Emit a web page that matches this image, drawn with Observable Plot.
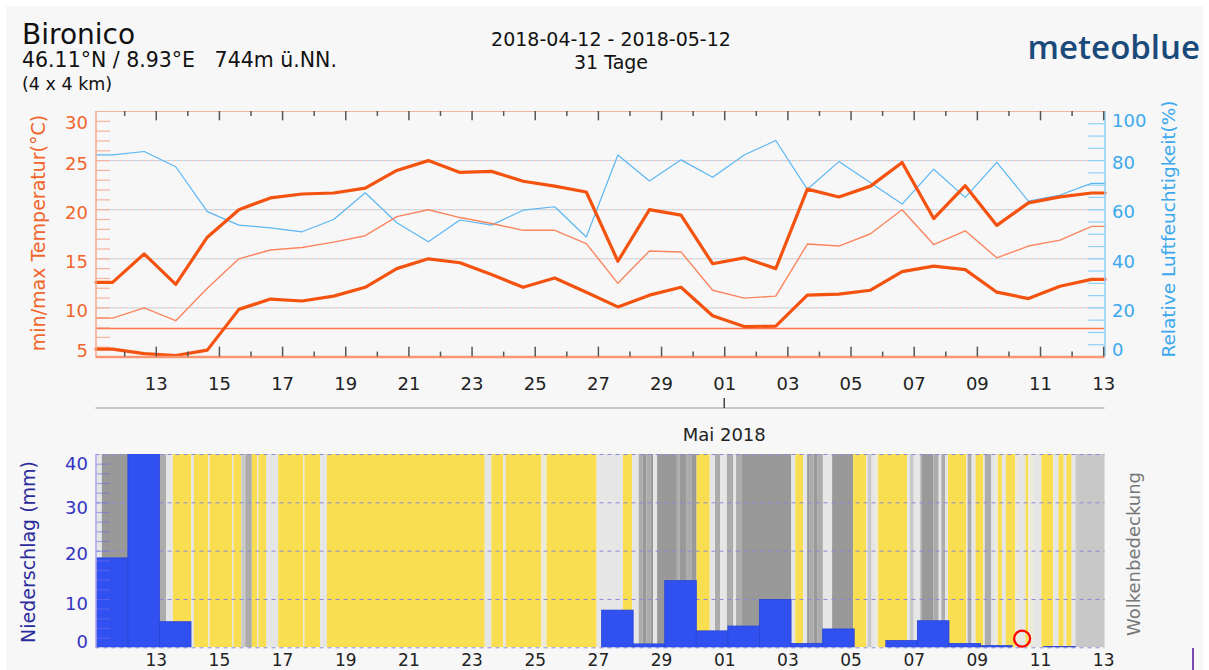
<!DOCTYPE html>
<html>
<head>
<meta charset="utf-8">
<script src="https://cdn.jsdelivr.net/npm/d3@7"></script>
<script src="https://cdn.jsdelivr.net/npm/@observablehq/plot@0.6"></script>
<style>
  body { margin: 0; background: #ffffff; }
  #wrap { position: relative; width: 1209px; height: 670px; overflow: hidden; background: #ffffff; font-family: "DejaVu Sans", sans-serif; }
  #panel { position: absolute; left: 6px; top: 6px; width: 1197px; height: 700px; background: #f7f7f7; }
  #wrap svg { position: absolute; left: 0; }
</style>
</head>
<body>
<div id="wrap"><div id="panel"></div></div>
<script>
// ---------------- DATA ----------------
const dates = [
  "2018-04-11","2018-04-12","2018-04-13","2018-04-14","2018-04-15","2018-04-16","2018-04-17","2018-04-18",
  "2018-04-19","2018-04-20","2018-04-21","2018-04-22","2018-04-23","2018-04-24","2018-04-25","2018-04-26",
  "2018-04-27","2018-04-28","2018-04-29","2018-04-30","2018-05-01","2018-05-02","2018-05-03","2018-05-04",
  "2018-05-05","2018-05-06","2018-05-07","2018-05-08","2018-05-09","2018-05-10","2018-05-11","2018-05-12"
];
const tempMax = [12.6, 15.5, 12.4, 17.2, 20.0, 21.2, 21.6, 21.7, 22.2, 24.0, 25.0, 23.8, 23.9, 22.9, 22.4, 21.8,
                 14.75, 20.0, 19.45, 14.5, 15.1, 14.0, 22.1, 21.3, 22.4, 24.8, 19.1, 22.45, 18.4, 20.7, 21.3, 21.7];
const tempMin = [5.8, 5.35, 5.15, 5.7, 9.85, 10.9, 10.7, 11.2, 12.1, 14.0, 15.0, 14.6, 13.4, 12.1, 13.05, 11.6,
                 10.1, 11.3, 12.1, 9.2, 8.1, 8.15, 11.3, 11.4, 11.8, 13.7, 14.25, 13.9, 11.6, 10.95, 12.2, 12.9];
const tempMean = [8.96, 10.0, 8.7, 12.0, 15.0, 15.9, 16.15, 16.7, 17.35, 19.3, 20.0, 19.2, 18.6, 17.9, 17.9, 16.55,
                  12.5, 15.8, 15.7, 11.8, 11.0, 11.2, 16.5, 16.3, 17.55, 20.0, 16.45, 17.85, 15.1, 16.3, 16.9, 18.3];
const humidity = [82.3, 83.7, 77.5, 59.2, 53.7, 52.6, 51.0, 56.0, 66.9, 54.7, 46.9, 55.8, 53.7, 59.8, 61.2, 48.9,
                  82.3, 71.7, 80.3, 73.2, 82.3, 88.2, 68.3, 79.6, 71.0, 62.3, 76.5, 65.0, 79.3, 63.5, 66.0, 70.7];
const precipitation = [18.5, 42, 5.3, 0, 0, 0, 0, 0, 0, 0, 0, 0, 0, 0, 0, 0,
                       7.7, 0.7, 13.8, 3.4, 4.4, 9.9, 0.8, 3.8, 0, 1.4, 5.5, 0.8, 0.35, 0, 0.15, 0];
// cloud cover runs: start hour (since 2018-04-11 00:00) and cover class (0 clear .. 5 overcast)
const cloudStartHour = [0, 7, 51, 56, 61, 75, 77, 88, 89, 106, 107, 113, 116, 121, 125, 126, 132, 141, 160, 161,
  173, 178, 298, 303, 312, 314, 341, 345, 383, 403, 410, 415, 418, 421, 424, 426, 429, 444, 446, 451,
  455, 459, 469, 473, 477, 482, 487, 489, 493, 531, 534, 540, 543, 545, 548, 551, 555, 562, 578, 588,
  589, 592, 595, 597, 619, 621, 624, 629, 630, 639, 643, 645, 648, 650, 664, 665, 668, 671, 677, 678,
  683, 686, 688, 691, 694, 701, 704, 709, 711, 715, 721, 730, 734, 738, 740, 744, 747];
const cloudLevel = [2, 5, 4, 2, 0, 2, 0, 2, 0, 2, 0, 3, 4, 0, 2, 0, 2, 0, 2, 0,
  2, 0, 2, 0, 2, 0, 1, 0, 2, 0, 2, 4, 5, 4, 5, 2, 5, 4, 5, 4,
  5, 0, 2, 4, 2, 4, 2, 4, 5, 2, 0, 2, 5, 4, 5, 4, 2, 5, 0, 2,
  3, 2, 1, 0, 2, 3, 2, 4, 5, 4, 2, 4, 2, 0, 2, 4, 2, 0, 2, 4,
  2, 1, 0, 2, 0, 1, 2, 0, 1, 2, 0, 2, 0, 2, 0, 2, 3];
const cloudEndHour = 770;
const tempGrid = [10, 15, 20, 25];
const refLine = [7.9];
const precipGrid = [0, 10, 20, 30, 40];
const marker = [{date: "2018-05-10T10:00:00Z", value: 1.9}];

// ---------------- SETUP ----------------
const cloudColors = ["#f8de50", "#eeead8", "#e6e6e6", "#c8c8c8", "#acacac", "#999999"];
const H = 3600 * 1000;
const base = Date.parse("2018-04-11T00:00:00Z");
const CENTER_H = 14.8;
const xDomain = [new Date(base + 2.2 * H), new Date(base + 769 * H)];
const centers = dates.map(d => new Date(Date.parse(d + "T00:00:00Z") + CENTER_H * H));
const series = vals => [
  {x: xDomain[0], y: vals[0]},
  ...vals.map((v, i) => ({x: centers[i], y: v})),
  {x: xDomain[1], y: vals[vals.length - 1]}
];
const humToT = h => 5 + h / 4;

const tickDays = d3.utcDay.range(new Date("2018-04-12T00:00:00Z"), new Date("2018-05-14T00:00:00Z"));
const majors = tickDays.filter(d => d.getUTCDate() % 2 === 1);
const minors = tickDays.filter(d => d.getUTCDate() % 2 === 0);
const fmtDay = d3.utcFormat("%d");
const left0 = () => xDomain[0];
const right0 = () => xDomain[1];

const W = 1209, ML = 95.5, MR = 104.5;
const font = "'DejaVu Sans', sans-serif";
const orange = "#f0662c", blueLab = "#3ca8ee";

// ---------------- TOP PANEL ----------------
const topPlot = Plot.plot({
  width: W, height: 320,
  marginLeft: ML, marginRight: MR, marginTop: 11, marginBottom: 63.5,
  style: {background: "transparent", fontFamily: font, fontSize: "18px", overflow: "visible"},
  x: {type: "utc", domain: xDomain, label: null},
  y: {domain: [5, 30], label: null},
  marks: [
    Plot.ruleY(tempGrid, {stroke: "#f5b9a6", strokeDasharray: "3,3"}),
    Plot.ruleY(tempGrid, {stroke: "#a6d6f6", strokeDasharray: "3,3", strokeDashoffset: 3}),
    Plot.ruleY(refLine, {stroke: "#ff7548", strokeWidth: 1.6}),
    Plot.ruleY([30], {stroke: "#f3b5a0", strokeWidth: 1.2}),
    Plot.ruleY(d3.range(6, 30), {x1: left0, x2: () => new Date(+xDomain[0] + 11 * H), stroke: "#f7b29c", strokeWidth: 1.2}),
    Plot.ruleY(d3.range(1, 20).map(k => 5 + k * 1.25), {x1: () => new Date(+xDomain[1] - 12.5 * H), x2: right0, stroke: "#8fd0f7", strokeWidth: 1.2}),
    Plot.line(series(humidity.map(humToT)), {x: "x", y: "y", stroke: "#5cb6f2", strokeWidth: 1.2}),
    Plot.line(series(tempMean), {x: "x", y: "y", stroke: "#fa8660", strokeWidth: 1.4}),
    Plot.line(series(tempMin), {x: "x", y: "y", stroke: "#f4520f", strokeWidth: 3.2}),
    Plot.line(series(tempMax), {x: "x", y: "y", stroke: "#f4520f", strokeWidth: 3.2}),
    Plot.ruleX([xDomain[0]], {stroke: "#f6a88c", strokeWidth: 1.5}),
    Plot.ruleX([xDomain[1]], {stroke: "#8ccff6", strokeWidth: 1.5}),
    Plot.ruleY([5], {stroke: "#fc9672", strokeWidth: 2.6}),
    Plot.ruleX(majors, {y1: 30, y2: 29.05, stroke: "#555", strokeWidth: 1.5}),
    Plot.ruleX(minors, {y1: 30, y2: 29.5, stroke: "#555", strokeWidth: 1.5}),
    Plot.ruleX(majors, {y1: 5, y2: 6.0, stroke: "#555", strokeWidth: 1.5}),
    Plot.ruleX(minors, {y1: 5, y2: 5.5, stroke: "#555", strokeWidth: 1.5}),
    Plot.axisX(majors, {anchor: "bottom", tickSize: 0, tickPadding: 20, tickFormat: fmtDay, color: "#222", fontSize: 18, label: null}),
    Plot.axisY(tempGrid, {anchor: "left", tickSize: 0, tickPadding: 8, dy: 3.2, color: orange, fontSize: 18, label: null}),
    Plot.axisY([30], {anchor: "left", tickSize: 0, tickPadding: 8, dy: 11.8, color: orange, fontSize: 18, label: null}),
    Plot.axisY([5], {anchor: "left", tickSize: 0, tickPadding: 8, dy: -6, color: orange, fontSize: 18, label: null}),
    Plot.axisY(tempGrid, {anchor: "right", tickSize: 0, tickPadding: 7, dy: 3, tickFormat: t => (t - 5) * 4, color: blueLab, fontSize: 18, label: null}),
    Plot.axisY([30], {anchor: "right", tickSize: 0, tickPadding: 7, dy: 9.8, tickFormat: t => (t - 5) * 4, color: blueLab, fontSize: 18, label: null}),
    Plot.axisY([5], {anchor: "right", tickSize: 0, tickPadding: 7, dy: -6.5, tickFormat: t => (t - 5) * 4, color: blueLab, fontSize: 18, label: null})
  ]
});
topPlot.style.top = "100px";

// ---------------- BOTTOM PANEL ----------------
const cloud = cloudStartHour.map((h, i) => ({
  start: new Date(base + h * H),
  end: new Date(base + (i + 1 < cloudStartHour.length ? cloudStartHour[i + 1] : cloudEndHour) * H),
  color: cloudColors[cloudLevel[i]]
}));
const precipData = precipitation
  .map((v, i) => ({x1: new Date(+centers[i] - 12 * H), x2: new Date(+centers[i] + 12 * H), v}))
  .filter(d => d.v > 0);
const precipCol = "#3434c0";

const bottomPlot = Plot.plot({
  width: W, height: 230,
  marginLeft: ML, marginRight: MR, marginTop: 14, marginBottom: 22.7,
  style: {background: "transparent", fontFamily: font, fontSize: "18px", overflow: "visible"},
  x: {type: "utc", domain: xDomain, label: null},
  y: {domain: [0, 40], label: null},
  color: {type: "identity"},
  marks: [
    Plot.rect(cloud, {x1: "start", x2: "end", y1: 0, y2: 40, fill: "color", clip: true}),
    Plot.ruleY(precipGrid, {stroke: "#8a8ad8", strokeDasharray: "4,4"}),
    Plot.rect(precipData, {x1: "x1", x2: "x2", y1: 0, y2: "v", fill: "#3050f0", stroke: "#2a44d6", strokeWidth: 0.8, clip: true}),
    Plot.ruleY(d3.range(2, 40, 2), {x1: left0, x2: () => new Date(+xDomain[0] + 11 * H), stroke: "#7070e0", strokeOpacity: 0.55, strokeWidth: 1.2}),
    Plot.ruleX([xDomain[0]], {stroke: "#a8a8ee", strokeWidth: 1.5}),
    Plot.dot(marker, {x: d => new Date(d.date), y: "value", r: 8, stroke: "#ff0000", strokeWidth: 2.3, fill: "none"}),
    Plot.axisX(majors, {anchor: "bottom", tickSize: 0, tickPadding: 6, tickFormat: fmtDay, color: "#222", fontSize: 17, label: null}),
    Plot.axisY([10, 30], {anchor: "left", tickSize: 0, tickPadding: 8, dy: 5, color: precipCol, fontSize: 18, label: null}),
    Plot.axisY([20], {anchor: "left", tickSize: 0, tickPadding: 8, dy: 3, color: precipCol, fontSize: 18, label: null}),
    Plot.axisY([40], {anchor: "left", tickSize: 0, tickPadding: 8, dy: 9.3, color: precipCol, fontSize: 18, label: null}),
    Plot.axisY([0], {anchor: "left", tickSize: 0, tickPadding: 8, dy: -5.3, color: precipCol, fontSize: 18, label: null})
  ]
});
bottomPlot.style.top = "440px";

const wrap = document.getElementById("wrap");
wrap.appendChild(topPlot);
wrap.appendChild(bottomPlot);

// ---------------- TEXT OVERLAY ----------------
const xs = topPlot.scale("x");
const may1 = xs.apply(new Date("2018-05-01T00:00:00Z"));
const ov = d3.create("svg").attr("width", W).attr("height", 670)
  .style("top", "0px").style("pointer-events", "none").style("font-family", font);

function txt(x, y, s, size, color, opts = {}) {
  const t = ov.append("text").attr("x", x).attr("y", y).text(s)
    .attr("font-size", size).attr("fill", color).style("white-space", "pre");
  if (opts.anchor) t.attr("text-anchor", opts.anchor);
  if (opts.rotate) t.attr("transform", `rotate(-90 ${x} ${y})`).attr("dominant-baseline", "central");
  if (opts.family) t.style("font-family", opts.family);
  if (opts.weight) t.attr("font-weight", opts.weight);
  return t;
}
txt(22, 43.5, "Bironico", 28, "#111");
txt(22, 67, "46.11°N / 8.93°E   744m ü.NN.", 20.5, "#111");
txt(22, 89.5, "(4 x 4 km)", 17.5, "#111");
txt(611, 46, "2018-04-12 - 2018-05-12", 19, "#111", {anchor: "middle"});
txt(611, 69, "31 Tage", 19, "#111", {anchor: "middle"});
txt(1200, 59, "meteoblue", 33, "#1a4a7a", {anchor: "end", family: "'Open Sans', sans-serif", weight: 600});
txt(38, 233, "min/max Temperatur(°C)", 19, orange, {anchor: "middle", rotate: true});
txt(1168, 229, "Relative Luftfeuchtigkeit(%)", 18.5, blueLab, {anchor: "middle", rotate: true});
txt(28, 552, "Niederschlag (mm)", 19, "#2b2b9c", {anchor: "middle", rotate: true});
txt(1133, 554, "Wolkenbedeckung", 18, "#777", {anchor: "middle", rotate: true});

// month separator
ov.append("line").attr("x1", ML).attr("x2", W - MR).attr("y1", 408).attr("y2", 408)
  .attr("stroke", "#9a9a9a").attr("stroke-width", 1.2);
ov.append("line").attr("x1", may1).attr("x2", may1).attr("y1", 398).attr("y2", 408)
  .attr("stroke", "#444").attr("stroke-width", 1.5);
txt(may1, 441, "Mai 2018", 18, "#222", {anchor: "middle"});
ov.append("line").attr("x1", 1193).attr("x2", 1193).attr("y1", 648).attr("y2", 670)
  .attr("stroke", "#7b4bb5").attr("stroke-width", 2);

wrap.appendChild(ov.node());
</script>
</body>
</html>
